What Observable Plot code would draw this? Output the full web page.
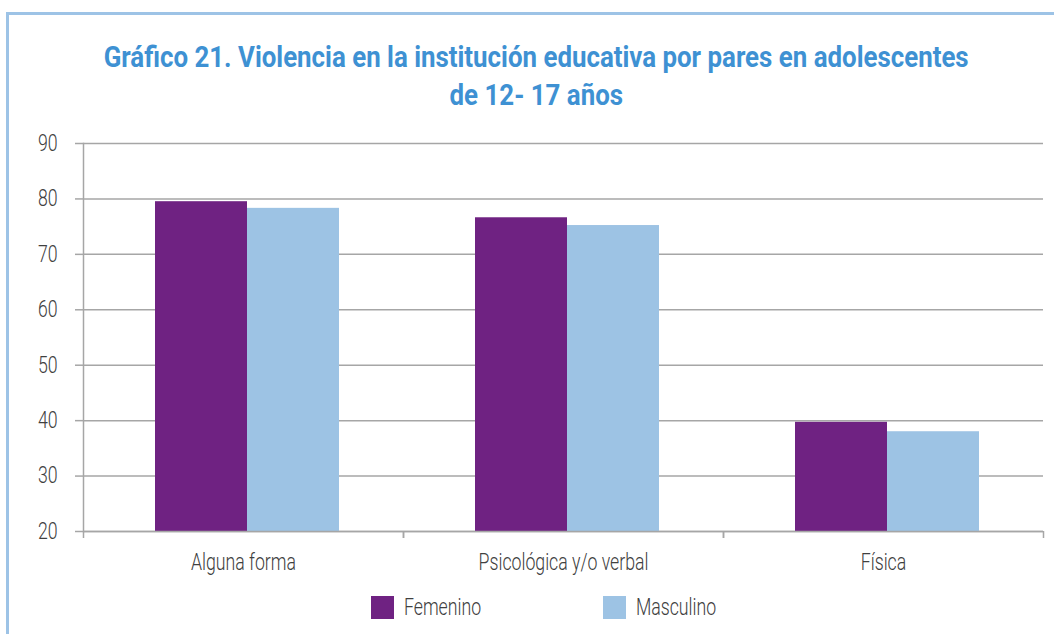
<!DOCTYPE html>
<html>
<head>
<meta charset="utf-8">
<script src="https://cdn.jsdelivr.net/npm/d3@7"></script>
<script src="https://cdn.jsdelivr.net/npm/@observablehq/plot@0.6"></script>
<style>
  html, body { margin: 0; padding: 0; background: #fff; width: 1054px; height: 634px; overflow: hidden; }
  body { position: relative; font-family: Roboto, "Liberation Sans", sans-serif; }
  #border { position: absolute; left: 6px; top: 12px; width: 1100px; height: 700px; border-left: 3px solid #9dc3e6; border-top: 3px solid #9dc3e6; box-sizing: border-box; }
  .tline { position: absolute; left: 0; width: 1073px; text-align: center; color: #3e91d3; font-weight: bold; font-size: 29px; line-height: 29px; white-space: nowrap; }
  .tline span { display: inline-block; transform-origin: 50% 50%; }
  #chart { position: absolute; left: 0; top: 0; }
  #legend { position: absolute; left: 0; top: 594px; width: 1054px; height: 26px; font-size: 23px; font-weight: 300; color: #404040; }
  .item { position: absolute; top: 0; display: flex; align-items: center; white-space: nowrap; }
  .sw { width: 23px; height: 23px; margin-right: 10px; flex: none; }
  .item span { display: inline-block; transform-origin: 0 50%; }
</style>
</head>
<body>
<div id="border"></div>
<div class="tline" style="top:43px"><span id="t1">Gráfico 21. Violencia en la institución educativa por pares en adolescentes</span></div>
<div class="tline" style="top:81px"><span id="t2">de 12- 17 años</span></div>
<div id="chart"></div>
<div id="legend"></div>
<script>
const categories = ["Alguna forma", "Psicológica y/o verbal", "Física"];
const series = ["Femenino", "Masculino"];
const femenino = [79.5, 76.6, 39.7];
const masculino = [78.3, 75.2, 38.0];
const yTicks = [20, 30, 40, 50, 60, 70, 80, 90];
const colors = ["#6f2282", "#9dc3e4"];

const data = [];
categories.forEach((c, i) => {
  data.push({cat: c, sex: series[0], value: femenino[i]});
  data.push({cat: c, sex: series[1], value: masculino[i]});
});

// Title condensing
const t1 = document.getElementById("t1"), t2 = document.getElementById("t2");
const tk = 865 / t1.getBoundingClientRect().width;
t1.style.transform = `scaleX(${tk})`;
t2.style.transform = `scaleX(${tk})`;

const W = 1054, H = 590, mL = 83, mR = 11, mT = 143, mB = 59;
const bw = (W - mL - mR) / categories.length;
const font = 'Roboto, "Liberation Sans", sans-serif';
const grey = "#a6a6a6";
const txt = "#404040";

const plot = Plot.plot({
  width: W, height: H,
  marginLeft: mL, marginRight: mR, marginTop: mT, marginBottom: mB,
  style: {fontFamily: font, color: txt, background: "transparent"},
  fx: {domain: categories, padding: 0, label: null, axis: null},
  x: {domain: series, axis: null, paddingInner: 0, paddingOuter: 0.739, align: 0.527},
  y: {domain: [20, 90], axis: null},
  color: {domain: series, range: colors},
  marks: [
    Plot.gridY(yTicks, {stroke: grey, strokeOpacity: 1, strokeWidth: 1.5}),
    Plot.barY(data, {fx: "cat", x: "sex", y1: 20, y2: "value", fill: "sex", inset: 0}),
    Plot.axisY(yTicks, {tickSize: 8, tickPadding: 18, fontSize: 23, fontWeight: 300, stroke: grey, strokeWidth: 1.5, tickFormat: d => d, label: null, fill: txt}),
    Plot.frame({anchor: "left", facetAnchor: "left", stroke: grey, strokeWidth: 1.5}),
    Plot.ruleY([20], {stroke: grey, strokeWidth: 1.5}),
    Plot.axisFx({anchor: "bottom", tickSize: 0, tickPadding: 22, fontSize: 23, fontWeight: 300, label: null, fill: txt}),
    Plot.axisFx({anchor: "bottom", tickSize: 7, text: null, dx: -bw / 2, stroke: grey, strokeWidth: 1.5, label: null}),
    Plot.axisFx({anchor: "bottom", tickSize: 7, text: null, dx: bw / 2, stroke: grey, strokeWidth: 1.5, label: null})
  ]
});
document.getElementById("chart").appendChild(plot);

// Condense svg texts to mimic a condensed typeface
let k = 0.8;
const texts = Array.from(plot.querySelectorAll("text"));
const ref = texts.find(t => t.textContent === "Alguna forma");
if (ref) k = 105 / ref.getComputedTextLength();
texts.forEach(t => {
  const w = t.getComputedTextLength();
  if (w > 0) {
    t.setAttribute("textLength", w * k);
    t.setAttribute("lengthAdjust", "spacingAndGlyphs");
  }
});

const legend = document.getElementById("legend");
const legendX = [371, 603];
series.forEach((s, i) => {
  const item = document.createElement("div");
  item.className = "item";
  item.style.left = legendX[i] + "px";
  const sw = document.createElement("div");
  sw.className = "sw";
  sw.style.background = colors[i];
  const t = document.createElement("span");
  t.textContent = s;
  item.appendChild(sw);
  item.appendChild(t);
  legend.appendChild(item);
  t.style.transform = `scaleX(${k})`;
});
</script>
</body>
</html>
